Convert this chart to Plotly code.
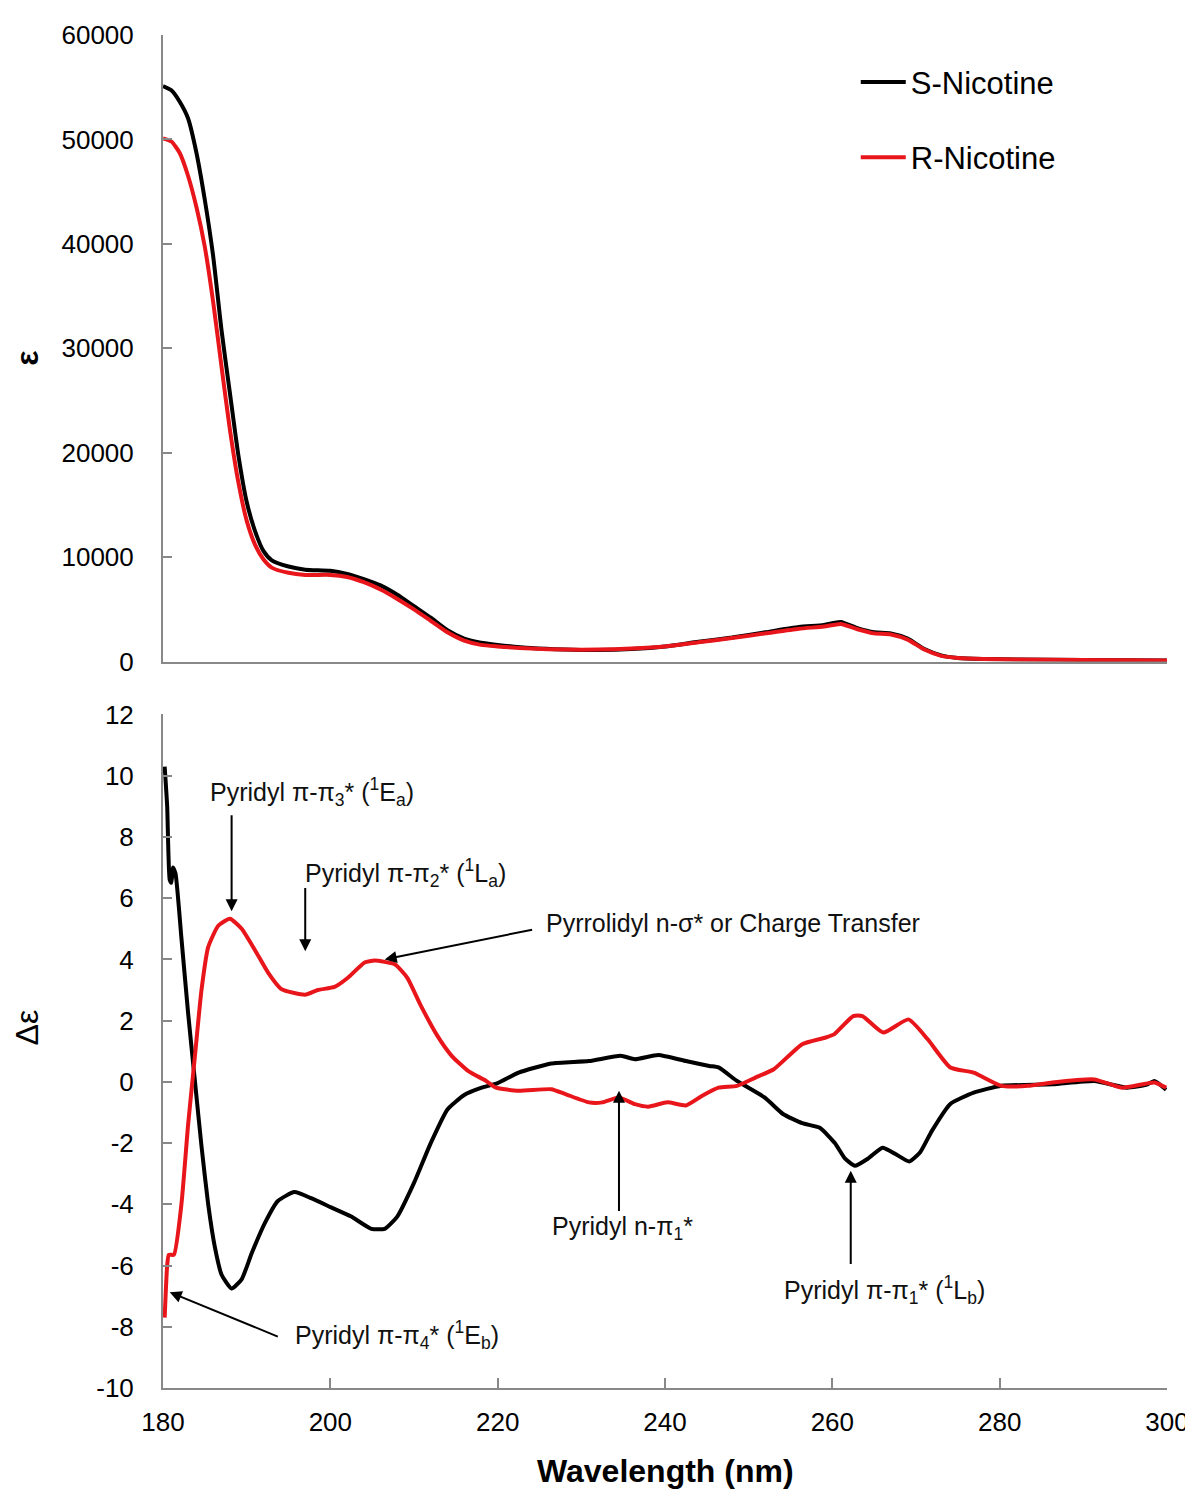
import plotly.graph_objects as go

# ---------------- data ----------------
wl_top = [180, 181, 182, 183, 184, 185, 186, 187, 188, 189, 190, 191, 192, 193, 195, 197,
          200, 202, 204, 206, 208, 210, 212, 214, 216, 218, 220, 224, 228, 232, 236, 240,
          244, 248, 252, 256, 259, 261, 263, 265, 267, 269, 271, 273, 275, 278, 282, 290, 300]
eps_S = [55100, 54700, 53600, 52000, 48700, 44200, 38800, 31700, 25700, 19800, 15300, 12500,
         10600, 9700, 9100, 8800, 8700, 8400, 7900, 7300, 6400, 5300, 4200, 3000, 2200, 1800,
         1600, 1300, 1150, 1100, 1200, 1450, 1900, 2300, 2800, 3300, 3500, 3800, 3200, 2800,
         2700, 2200, 1200, 600, 350, 250, 200, 150, 100]
eps_R = [50100, 49800, 48700, 46500, 43500, 39700, 34400, 28200, 22200, 17200, 13500, 11200,
         9800, 9000, 8500, 8300, 8300, 8100, 7600, 6900, 6000, 5000, 3900, 2800, 2000, 1600,
         1450, 1250, 1150, 1150, 1250, 1450, 1850, 2250, 2700, 3150, 3350, 3600, 3100, 2700,
         2600, 2100, 1150, 550, 350, 250, 200, 150, 100]

wl_cd_S = [180.2, 180.5, 180.8, 181.0, 181.2, 181.5, 182.2, 183.0, 183.8, 184.6, 185.4, 186.2,
           187.0, 188.2, 189.4, 190.6, 192.2, 193.7, 195.7, 197.7, 200.1, 202.5, 204.9, 206.5,
           208.0, 210.0, 212.0, 214.0, 216.0, 218.0, 220.0, 222.5, 226.4, 230.9, 234.7, 236.4,
           239.2, 242.5, 245.3, 246.4, 248.6, 251.9, 254.1, 256.4, 258.5, 260.3, 261.5, 262.7,
           264.3, 266.0, 267.5, 269.2, 270.5, 271.9, 274.1, 276.9, 280.2, 286.3, 291.3, 295.2,
           297.5, 298.5, 299.9]
deps_S = [10.3, 9.0, 6.6, 6.5, 7.0, 6.8, 4.7, 2.25, 0.07, -2.1, -4.0, -5.4,
          -6.3, -6.75, -6.45, -5.6, -4.6, -3.9, -3.6, -3.8, -4.1, -4.4, -4.8, -4.8,
          -4.4, -3.3, -2.0, -0.9, -0.43, -0.2, -0.04, 0.3, 0.6, 0.68, 0.85, 0.74,
          0.88, 0.68, 0.52, 0.47, 0.03, -0.51, -1.05, -1.35, -1.5, -2.0, -2.5, -2.74,
          -2.5, -2.15, -2.35, -2.6, -2.3, -1.6, -0.72, -0.35, -0.13, -0.08, 0.03, -0.19,
          -0.1, 0.03, -0.26]

wl_cd_R = [180.2, 180.5, 180.7, 181.3, 182.2, 183.0, 183.8, 184.6, 185.4, 186.6, 188.0, 189.4,
           191.0, 192.6, 194.1, 195.7, 197.1, 198.5, 200.5, 202.1, 204.1, 205.3, 207.7, 209.2,
           210.8, 212.8, 214.5, 216.5, 218.5, 219.8, 222.5, 226.4, 228.1, 230.9, 232.5, 234.5,
           236.4, 238.0, 240.3, 242.5, 244.4, 246.4, 248.6, 250.8, 253.0, 256.4, 259.1, 260.2,
           262.5, 263.6, 266.1, 269.1, 271.4, 274.1, 276.9, 280.2, 283.4, 286.3, 291.3, 294.6,
           298.5, 299.9]
deps_R = [-7.7, -6.0, -5.65, -5.65, -4.0, -1.4, 0.8, 3.0, 4.4, 5.1, 5.33, 5.0,
          4.3, 3.55, 3.04, 2.9, 2.85, 3.0, 3.1, 3.4, 3.9, 3.96, 3.84, 3.4,
          2.5, 1.5, 0.85, 0.35, 0.05, -0.19, -0.29, -0.24, -0.40, -0.67, -0.67, -0.51,
          -0.73, -0.81, -0.67, -0.77, -0.46, -0.19, -0.13, 0.14, 0.41, 1.23, 1.44, 1.55,
          2.15, 2.15, 1.61, 2.04, 1.39, 0.47, 0.30, -0.13, -0.13, -0.02, 0.08, -0.19,
          -0.02, -0.19]

x_ticks = [180, 200, 220, 240, 260, 280, 300]
top_ticks = [0, 10000, 20000, 30000, 40000, 50000, 60000]
bot_ticks = [-10, -8, -6, -4, -2, 0, 2, 4, 6, 8, 10, 12]

# (head_x, head_y, tail_x, tail_y, text, text_x, text_y, anchor)
labels = [
    (188.2, 5.57, 188.2, 8.76, "Pyridyl π-π<sub>3</sub>* (<sup>1</sup>E<sub>a</sub>)", 197.8, 9.48, "center"),
    (197.0, 4.27, 197.0, 6.38, "Pyridyl π-π<sub>2</sub>* (<sup>1</sup>L<sub>a</sub>)", 209.0, 6.81, "center"),
    (206.5, 4.0, 224.3, 4.98, "Pyrrolidyl n-σ* or Charge Transfer", 225.5, 5.18, "left"),
    (234.5, -0.29, 234.5, -4.27, "Pyridyl n-π<sub>1</sub>*", 234.9, -4.79, "center"),
    (262.2, -2.9, 262.2, -6.0, "Pyridyl π-π<sub>1</sub>* (<sup>1</sup>L<sub>b</sub>)", 266.2, -6.81, "center"),
    (180.8, -6.87, 193.9, -8.34, "Pyridyl π-π<sub>4</sub>* (<sup>1</sup>E<sub>b</sub>)", 195.5, -8.27, "left"),
]

BLACK = "#000000"
RED = "#e8161b"
GREY = "#888888"
FONT = "Arial, Liberation Sans, sans-serif"

fig = go.Figure()
fig.add_trace(go.Scatter(x=wl_top, y=eps_S, mode="lines", name="S-Nicotine",
                         line=dict(color=BLACK, width=4, shape="spline", smoothing=0.6),
                         xaxis="x", yaxis="y", legendgroup="S"))
fig.add_trace(go.Scatter(x=wl_top, y=eps_R, mode="lines", name="R-Nicotine",
                         line=dict(color=RED, width=4, shape="spline", smoothing=0.6),
                         xaxis="x", yaxis="y", legendgroup="R"))
fig.add_trace(go.Scatter(x=wl_cd_S, y=deps_S, mode="lines", name="S-Nicotine",
                         line=dict(color=BLACK, width=4, shape="spline", smoothing=0.5),
                         xaxis="x2", yaxis="y2", showlegend=False))
fig.add_trace(go.Scatter(x=wl_cd_R, y=deps_R, mode="lines", name="R-Nicotine",
                         line=dict(color=RED, width=4, shape="spline", smoothing=0.5),
                         xaxis="x2", yaxis="y2", showlegend=False))

annotations = []
for hx, hy, tx, ty, txt, lx, ly, anc in labels:
    annotations.append(dict(x=hx, y=hy, ax=tx, ay=ty, xref="x2", yref="y2",
                            axref="x2", ayref="y2", text="", showarrow=True,
                            arrowhead=2, arrowsize=1.2, arrowwidth=2, arrowcolor=BLACK,
                            standoff=0, startstandoff=0))
    annotations.append(dict(x=lx, y=ly, xref="x2", yref="y2", text=txt, showarrow=False,
                            xanchor=anc, yanchor="middle",
                            font=dict(family=FONT, size=25, color="#111111")))

annotations += [
    dict(x=-0.155, y=0.768, xref="paper", yref="paper", text="<b>ε</b>", textangle=-90,
         showarrow=False, font=dict(family=FONT, size=32, color=BLACK)),
    dict(x=-0.155, y=0.252, xref="paper", yref="paper", text="Δε", textangle=-90,
         showarrow=False, font=dict(family=FONT, size=32, color=BLACK)),
    dict(x=0.5, y=-0.076, xref="paper", yref="paper", text="<b>Wavelength (nm)</b>",
         showarrow=False, font=dict(family=FONT, size=32, color=BLACK)),
]

axis_common = dict(showgrid=False, zeroline=False, showline=True, linecolor=GREY,
                   linewidth=2, tickcolor=GREY, tickwidth=2,
                   tickfont=dict(family=FONT, size=26, color=BLACK))

fig.update_layout(
    width=1193, height=1493,
    margin=dict(l=155, r=31, t=24, b=113),
    paper_bgcolor="white", plot_bgcolor="white",
    font=dict(family=FONT),
    showlegend=True,
    legend=dict(x=0.69, y=0.985, xanchor="left", yanchor="top",
                font=dict(family=FONT, size=31, color=BLACK),
                tracegroupgap=32, bgcolor="rgba(0,0,0,0)", itemwidth=45),
    xaxis=dict(domain=[0, 1], range=[180, 300], anchor="y", showticklabels=False,
               ticks="", tickvals=x_ticks, **axis_common),
    yaxis=dict(domain=[0.5369, 1], range=[0, 60000], anchor="x", tickvals=top_ticks,
               ticktext=[str(v) for v in top_ticks],
               ticks="inside", ticklen=9, ticklabelstandoff=22, **axis_common),
    xaxis2=dict(domain=[0, 1], range=[180, 300], anchor="y2", tickvals=x_ticks,
                ticktext=[str(v) for v in x_ticks],
                ticks="inside", ticklen=10, ticklabelstandoff=10, **axis_common),
    yaxis2=dict(domain=[0, 0.4978], range=[-10, 12], anchor="x2", tickvals=bot_ticks,
                ticktext=[str(v) for v in bot_ticks],
                ticks="inside", ticklen=9, ticklabelstandoff=22, **axis_common),
    annotations=annotations,
)

fig.write_html("out.html")
